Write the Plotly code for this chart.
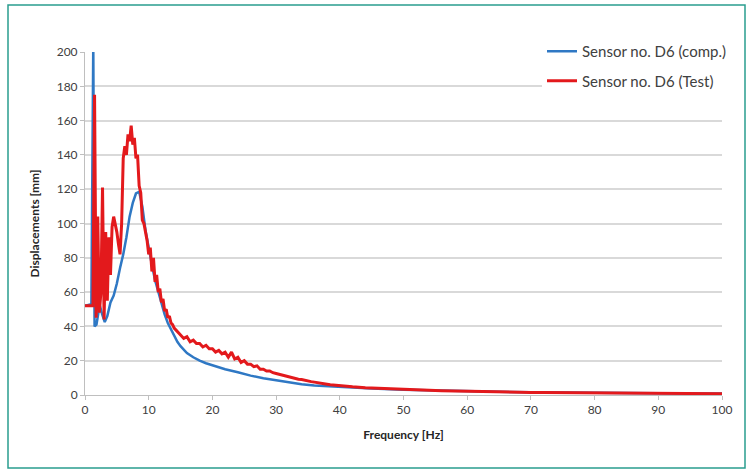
import plotly.graph_objects as go

# ---------------- data ----------------
comp_freq = [0, 1.0, 1.3, 1.5, 1.8, 2.3, 2.7, 3.1, 3.5, 4.0, 4.5, 5.0, 5.5, 6.0, 6.5, 7.0,
             7.5, 8.0, 8.5, 9.0, 9.5, 10.0, 10.5, 11.0, 11.5, 12.0, 12.5, 13.0, 13.5,
             14.0, 14.5, 15.0, 16.0, 17.0, 18.0, 19.0, 20.0, 22.0, 24.0, 26.0, 28.0,
             30.0, 32.0, 34.0, 36.0, 38.0, 40.0, 45, 50, 55, 60, 65, 70, 75, 80, 85,
             90, 95, 100]
comp_vals = [52, 53, 205, 40, 41, 52.5, 47, 42.5, 46, 54, 58, 65, 74, 82, 92, 104,
             112, 117.5, 118.5, 110, 96, 85, 76, 67, 60, 53, 47, 42, 38,
             34, 31, 28.5, 24.5, 22, 20, 18.5, 17.3, 15, 13.3, 11.3, 9.8,
             8.5, 7.4, 6.3, 5.6, 5.1, 4.7, 3.8, 3.1, 2.6, 2.2, 1.9, 1.6, 1.4, 1.25, 1.1,
             1.0, 0.9, 0.85]

test_freq = [0, 0.25, 0.5, 0.75, 1.0, 1.25, 1.5, 1.75, 2.0, 2.25, 2.5, 2.75, 3.0, 3.25,
             3.5, 3.75, 4.0, 4.25, 4.5, 4.75, 5.0, 5.25, 5.5, 5.75, 6.0, 6.25, 6.5, 6.75,
             7.0, 7.25, 7.5, 7.75, 8.0, 8.25, 8.5, 8.75, 9.0, 9.25, 9.5, 9.75, 10.0,
             10.25, 10.5, 10.75, 11.0, 11.25, 11.5, 11.75, 12.0, 12.25, 12.5, 12.75,
             13.0, 13.25, 13.5, 13.75, 14.0, 14.25, 14.5, 14.75, 15.0,
             15.5, 16, 16.5, 17, 17.5, 18, 18.5, 19, 19.5, 20, 20.5, 21, 21.5, 22,
             22.5, 23, 23.5, 24, 24.5, 25, 25.5, 26, 26.5, 27, 27.5, 28, 28.5, 29,
             29.5, 30, 30.5, 31, 31.5, 32, 32.5, 33, 33.5, 34, 34.5, 35, 35.5, 36,
             36.5, 37, 37.5, 38, 38.5, 39, 39.5, 40,
             42, 44, 46, 48, 50, 52, 54, 56, 58, 60, 62, 64, 66, 68, 70, 72, 74, 76,
             78, 80, 82, 84, 86, 88, 90, 92, 94, 96, 98, 100]
test_vals = [52, 52, 52, 52, 52, 52, 175, 45, 104, 48, 60, 121, 44, 95,
             55, 92, 70, 98, 104, 100, 95, 88, 82, 100, 138, 145, 140, 152,
             148, 157, 146, 150, 138, 140, 122, 118, 102, 100, 95, 90, 82,
             86, 72, 80, 66, 70, 60, 62, 54, 56, 49, 50,
             45, 46, 42, 41, 39, 38, 37, 36, 35,
             33, 34, 31, 32, 30, 30, 28, 29, 27, 27, 25, 26, 24, 25,
             22, 25, 21, 22, 19, 20, 18, 18, 16.5, 17, 15, 15, 14, 14,
             13, 12.5, 12, 11.5, 11, 10.5, 10, 9.8, 9.2, 9, 8.5, 8.2, 7.8, 7.5,
             7.1, 6.8, 6.5, 6.3, 6.0, 5.8, 5.6, 5.4,
             4.8, 4.3, 3.9, 3.5, 3.2, 2.9, 2.7, 2.5, 2.3, 2.1, 1.95, 1.8, 1.7, 1.6,
             1.5, 1.4, 1.35, 1.3, 1.2, 1.15, 1.1, 1.05, 1.0, 0.95, 0.9, 0.9, 0.85,
             0.8, 0.8, 0.75]

series_names = ["Sensor no. D6 (comp.)", "Sensor no. D6 (Test)"]
x_ticks = [0, 10, 20, 30, 40, 50, 60, 70, 80, 90, 100]
y_ticks = [0, 20, 40, 60, 80, 100, 120, 140, 160, 180, 200]

# ---------------- figure ----------------
W, H = 755, 473
L, R, T, B = 85, 33, 52, 78
FONT = "Lato, 'Open Sans', sans-serif"

fig = go.Figure()
fig.add_trace(go.Scatter(x=comp_freq, y=comp_vals, mode="lines", name=series_names[0],
                         legendgroup="a",
                         line=dict(color="#2f78c4", width=2.5)))
fig.add_trace(go.Scatter(x=test_freq, y=test_vals, mode="lines", name=series_names[1],
                         legendgroup="b",
                         line=dict(color="#e3191c", width=3)))

pw = W - L - R
ph = H - T - B


def px2x(p):
    return (p - L) / pw


def px2y(p):
    return (H - B - p) / ph


fig.update_layout(
    width=W, height=H,
    margin=dict(l=L, r=R, t=T, b=B),
    paper_bgcolor="white", plot_bgcolor="white",
    font=dict(family=FONT, size=12, color="#404040"),
    showlegend=True,
    legend=dict(x=px2x(542), y=px2y(35), xanchor="left", yanchor="top",
                bgcolor="white", borderwidth=0, tracegroupgap=7,
                font=dict(family=FONT, size=15, color="#404040")),
    xaxis=dict(range=[0, 100], tickvals=x_ticks, showgrid=False,
               showline=True, linecolor="#bfbfbf", linewidth=1,
               ticks="outside", ticklen=4, tickcolor="#bfbfbf",
               zeroline=False,
               title=dict(text="<b>Frequency [Hz]</b>", font=dict(size=12, color="#262626"),
                          standoff=14)),
    yaxis=dict(range=[0, 200], tickvals=y_ticks, showgrid=True, gridcolor="#d9d9d9",
               gridwidth=1.5,
               showline=True, linecolor="#bfbfbf", linewidth=1,
               ticks="outside", ticklen=4, tickcolor="#bfbfbf",
               zeroline=False,
               title=dict(text="<b>Displacements [mm]</b>", font=dict(size=12, color="#262626"),
                          standoff=14)),
)

# teal frame around the whole figure
fig.add_shape(type="rect", xref="paper", yref="paper",
              x0=px2x(8), x1=px2x(745), y0=px2y(468), y1=px2y(5),
              line=dict(color="#2a9d8f", width=1.5), fillcolor="rgba(0,0,0,0)",
              layer="above")

fig.write_html("out.html",
               config={"displayModeBar": False},
               post_script="document.body.style.margin='0';document.body.style.overflow='hidden';")
